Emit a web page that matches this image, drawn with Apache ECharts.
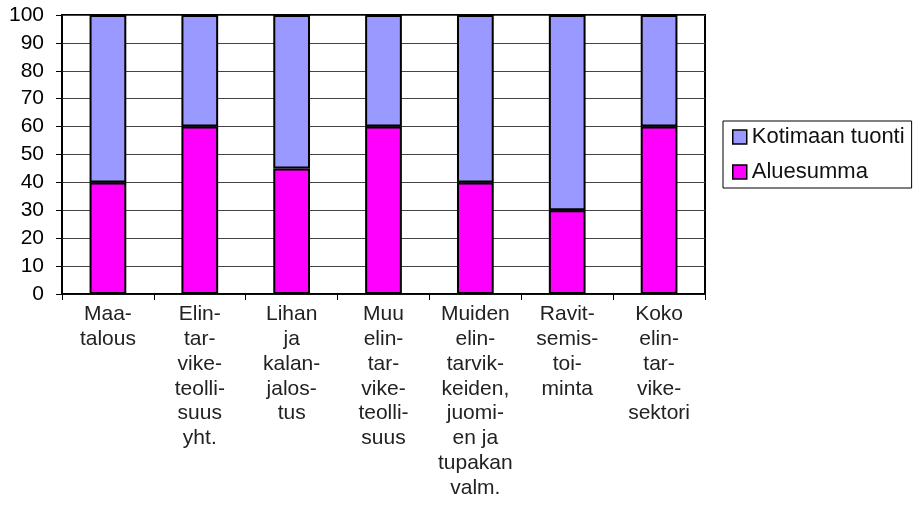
<!DOCTYPE html>
<html>
<head>
<meta charset="utf-8">
<script src="https://cdn.jsdelivr.net/npm/echarts@6/dist/echarts.min.js"></script>
<style>
html, body { margin: 0; padding: 0; background: #fff; }
#chart { width: 918px; height: 505px; }
</style>
</head>
<body>
<div id="chart"></div>
<script>
// categories as printed under the axis (hyphenated line breaks)
const categories = [
  "Maa-\ntalous",
  "Elin-\ntar-\nvike-\nteolli-\nsuus\nyht.",
  "Lihan\nja\nkalan-\njalos-\ntus",
  "Muu\nelin-\ntar-\nvike-\nteolli-\nsuus",
  "Muiden\nelin-\ntarvik-\nkeiden,\njuomi-\nen ja\ntupakan\nvalm.",
  "Ravit-\nsemis-\ntoi-\nminta",
  "Koko\nelin-\ntar-\nvike-\nsektori"
]
const aluesumma = [40, 60, 45, 60, 40, 30, 60]
const kotimaanTuonti = [60, 40, 55, 40, 60, 70, 40]

const font = 'Liberation Sans, Arial, sans-serif'
const mychart = echarts.init(document.getElementById('chart'))
mychart.setOption({
  animation: false,
  grid: {
    left: 62,
    right: 213,
    top: 15,
    bottom: 211,
    show: true,
    borderColor: '#000',
    borderWidth: 2,
    backgroundColor: '#fff'
  },
  legend: {
    orient: 'vertical',
    left: 723,
    top: 121,
    padding: [5, 7, 5, 9],
    itemGap: 13,
    itemWidth: 14,
    itemHeight: 14,
    icon: 'rect',
    borderColor: '#000',
    borderWidth: 1,
    textStyle: { fontFamily: font, fontSize: 22, color: '#111' },
    data: [
      { name: 'Kotimaan tuonti', itemStyle: { color: '#9999FF', borderColor: '#000', borderWidth: 1.5 } },
      { name: 'Aluesumma', itemStyle: { color: '#FF00FF', borderColor: '#000', borderWidth: 1.5 } }
    ]
  },
  xAxis: {
    type: 'category',
    data: categories,
    axisLine: { lineStyle: { color: '#000', width: 1.5 } },
    axisTick: { show: true, length: 6, lineStyle: { color: '#000' } },
    axisLabel: {
      interval: 0,
      margin: 8,
      fontFamily: font,
      fontSize: 21,
      lineHeight: 24.8,
      color: '#222',
      verticalAlign: 'top'
    }
  },
  yAxis: {
    type: 'value',
    min: 0,
    max: 100,
    interval: 10,
    axisLine: { show: true, lineStyle: { color: '#000', width: 1.5 } },
    axisTick: { show: true, length: 6, lineStyle: { color: '#000' } },
    splitLine: { lineStyle: { color: '#444', width: 1 } },
    axisLabel: {
      margin: 18,
      fontFamily: font,
      fontSize: 21,
      color: '#000'
    }
  },
  series: [
    {
      name: 'Aluesumma',
      type: 'bar',
      stack: 'total',
      barWidth: '40%',
      data: aluesumma,
      itemStyle: { color: '#FF00FF', borderColor: '#000', borderWidth: 2 }
    },
    {
      name: 'Kotimaan tuonti',
      type: 'bar',
      stack: 'total',
      barWidth: '40%',
      data: kotimaanTuonti,
      itemStyle: { color: '#9999FF', borderColor: '#000', borderWidth: 2 }
    }
  ]
})
</script>
</body>
</html>
